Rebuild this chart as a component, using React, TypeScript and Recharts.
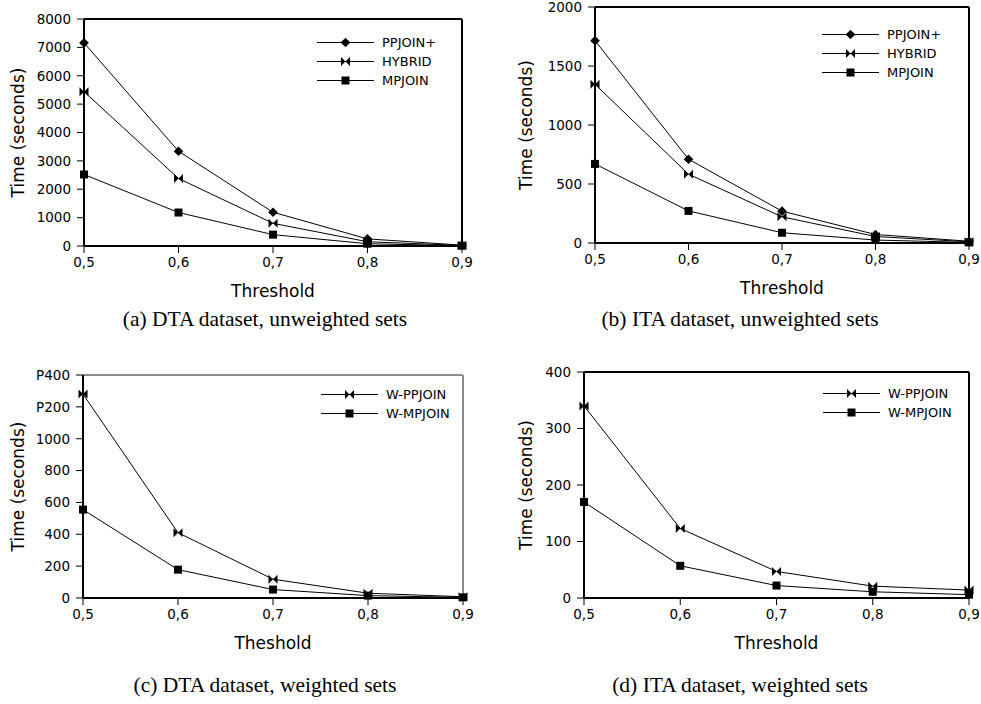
import React from 'react';
import { LineChart, Line, XAxis, YAxis, Legend, Label, ReferenceLine } from 'recharts';

// thresholds on the x axis
const thresholds = [0.5, 0.6, 0.7, 0.8, 0.9];
const xTickLabels = ['0,5', '0,6', '0,7', '0,8', '0,9'];

// (a) DTA dataset, unweighted sets
const dtaPpjoinPlus = [7160, 3340, 1190, 250, 30];
const dtaHybrid = [5440, 2380, 800, 150, 20];
const dtaMpjoin = [2520, 1180, 400, 80, 10];

// (b) ITA dataset, unweighted sets
const itaPpjoinPlus = [1715, 710, 270, 72, 15];
const itaHybrid = [1345, 583, 222, 55, 10];
const itaMpjoin = [670, 272, 87, 25, 5];

// (c) DTA dataset, weighted sets
const dtaWPpjoin = [1280, 410, 118, 30, 8];
const dtaWMpjoin = [555, 178, 53, 15, 4];

// (d) ITA dataset, weighted sets
const itaWPpjoin = [340, 123, 47, 21, 14];
const itaWMpjoin = [170, 57, 22, 11, 6];

const yTicksA = [0, 1000, 2000, 3000, 4000, 5000, 6000, 7000, 8000];
const yTicksB = [0, 500, 1000, 1500, 2000];
const yTicksC = [0, 200, 400, 600, 800, 1000, 1200, 1400];
const yTickLabelsC = ['0', '200', '400', '600', '800', '1000', 'P200', 'P400'];
const yTicksD = [0, 100, 200, 300, 400];

const SANS = 'DejaVu Sans';

type Shape = 'diamond' | 'bowtie' | 'square';

interface Series {
  name: string;
  values: number[];
  shape: Shape;
}

const Marker = ({ cx, cy, shape }: { cx: number; cy: number; shape: Shape }) => {
  if (cx == null || cy == null) return null;
  if (shape === 'diamond') {
    const r = 4.8;
    return <polygon points={`${cx},${cy - r} ${cx + r},${cy} ${cx},${cy + r} ${cx - r},${cy}`} fill="#000" />;
  }
  if (shape === 'bowtie') {
    const r = 4.5;
    return (
      <g fill="#000">
        <polygon points={`${cx - r},${cy - r} ${cx - r},${cy + r} ${cx},${cy}`} />
        <polygon points={`${cx + r},${cy - r} ${cx + r},${cy + r} ${cx},${cy}`} />
      </g>
    );
  }
  return <rect x={cx - 4} y={cy - 4} width={8} height={8} fill="#000" />;
};

const LegendBox = ({ series }: { series: Series[] }) => (
  <div style={{ fontFamily: SANS, fontSize: 13, color: '#000' }}>
    {series.map(s => (
      <div key={s.name} style={{ display: 'flex', alignItems: 'center', height: 19 }}>
        <svg width={57} height={19}>
          <line x1={0} x2={57} y1={9.5} y2={9.5} stroke="#000" strokeWidth={1} />
          <Marker cx={28.5} cy={9.5} shape={s.shape} />
        </svg>
        <span style={{ marginLeft: 8, whiteSpace: 'nowrap' }}>{s.name}</span>
      </div>
    ))}
  </div>
);

interface PanelProps {
  left: number;
  top: number;
  width: number;
  height: number;
  marginTop: number;
  marginRight: number;
  yWidth: number;
  xHeight: number;
  yMax: number;
  yTicks: number[];
  yLabels?: string[];
  series: Series[];
  xTitle: string;
  yTitleX: number;
  legendLeft: number;
  legendTop: number;
  frame: string;
}

function Panel(p: PanelProps) {
  const data = thresholds.map((t, i) => {
    const row: any = { t };
    p.series.forEach((s, k) => {
      row['s' + k] = s.values[i];
    });
    return row;
  });

  const tickStyle = { fill: '#000', fontSize: 13.5, fontFamily: SANS };

  return (
    <div style={{ position: 'absolute', left: p.left, top: p.top }}>
      <LineChart
        width={p.width}
        height={p.height}
        data={data}
        margin={{ top: p.marginTop, right: p.marginRight, left: 0, bottom: 0 }}
      >
        <XAxis
          dataKey="t"
          type="number"
          domain={[0.5, 0.9]}
          ticks={thresholds}
          tickFormatter={(v: number) => xTickLabels[thresholds.indexOf(v)]}
          height={p.xHeight}
          axisLine={{ stroke: '#000', strokeWidth: 2 }}
          tickLine={{ stroke: '#000' }}
          tickSize={7}
          tickMargin={4}
          tick={tickStyle}
          interval={0}
        >
          <Label
            content={(lp: any) => {
              const vb = lp.viewBox;
              return (
                <text x={vb.x + vb.width / 2} y={vb.y + 51} textAnchor="middle" fontSize={17} fontFamily={SANS} fill="#000">
                  {p.xTitle}
                </text>
              );
            }}
          />
        </XAxis>
        <YAxis
          type="number"
          domain={[0, p.yMax]}
          ticks={p.yTicks}
          tickFormatter={(v: number) => (p.yLabels ? p.yLabels[p.yTicks.indexOf(v)] : String(v))}
          width={p.yWidth}
          axisLine={{ stroke: '#000', strokeWidth: 2 }}
          tickLine={{ stroke: '#000' }}
          tickSize={7}
          tickMargin={6}
          tick={tickStyle}
          interval={0}
        >
          <Label
            content={(lp: any) => {
              const vb = lp.viewBox;
              const cx = vb.x + p.yTitleX;
              const cy = vb.y + vb.height / 2;
              return (
                <text
                  x={cx}
                  y={cy}
                  transform={`rotate(-90 ${cx} ${cy})`}
                  textAnchor="middle"
                  dominantBaseline="central"
                  fontSize={17}
                  fontFamily={SANS}
                  fill="#000"
                >
                  Time (seconds)
                </text>
              );
            }}
          />
        </YAxis>
        {/* top and right edges of the plot frame */}
        <ReferenceLine y={p.yMax} stroke={p.frame} strokeWidth={2} />
        <ReferenceLine x={0.9} stroke={p.frame} strokeWidth={2} />
        <Legend
          layout="vertical"
          align="center"
          verticalAlign="middle"
          wrapperStyle={{ left: p.legendLeft, top: p.legendTop, width: 170 }}
          content={() => <LegendBox series={p.series} />}
        />
        {p.series.map((s, k) => (
          <Line
            key={s.name}
            name={s.name}
            dataKey={'s' + k}
            stroke="#000"
            strokeWidth={1}
            isAnimationActive={false}
            activeDot={false}
            dot={(dp: any) => <Marker key={`${s.name}-${dp.index}`} cx={dp.cx} cy={dp.cy} shape={s.shape} />}
          />
        ))}
      </LineChart>
    </div>
  );
}

const captionStyle: React.CSSProperties = {
  position: 'absolute',
  width: 400,
  textAlign: 'center',
  fontFamily: 'Liberation Serif',
  fontSize: 21.5,
  color: '#000',
  whiteSpace: 'nowrap',
};

export default function App() {
  return (
    <div style={{ position: 'absolute', left: 0, top: 0, width: 981, height: 704, background: '#fff' }}>
      <Panel
        left={0}
        top={0}
        width={490}
        height={300}
        marginTop={19}
        marginRight={28}
        yWidth={84}
        xHeight={54}
        yMax={8000}
        yTicks={yTicksA}
        series={[
          { name: 'PPJOIN+', values: dtaPpjoinPlus, shape: 'diamond' },
          { name: 'HYBRID', values: dtaHybrid, shape: 'bowtie' },
          { name: 'MPJOIN', values: dtaMpjoin, shape: 'square' },
        ]}
        xTitle="Threshold"
        yTitleX={18}
        legendLeft={317}
        legendTop={33}
        frame="#000"
      />
      <Panel
        left={490}
        top={0}
        width={491}
        height={300}
        marginTop={7}
        marginRight={12}
        yWidth={105}
        xHeight={57}
        yMax={2000}
        yTicks={yTicksB}
        series={[
          { name: 'PPJOIN+', values: itaPpjoinPlus, shape: 'diamond' },
          { name: 'HYBRID', values: itaHybrid, shape: 'bowtie' },
          { name: 'MPJOIN', values: itaMpjoin, shape: 'square' },
        ]}
        xTitle="Threshold"
        yTitleX={36}
        legendLeft={332}
        legendTop={25}
        frame="#000"
      />
      <Panel
        left={0}
        top={350}
        width={490}
        height={310}
        marginTop={25}
        marginRight={27}
        yWidth={83}
        xHeight={62}
        yMax={1400}
        yTicks={yTicksC}
        yLabels={yTickLabelsC}
        series={[
          { name: 'W-PPJOIN', values: dtaWPpjoin, shape: 'bowtie' },
          { name: 'W-MPJOIN', values: dtaWMpjoin, shape: 'square' },
        ]}
        xTitle="Theshold"
        yTitleX={18}
        legendLeft={321}
        legendTop={35}
        frame="#8c8c8c"
      />
      <Panel
        left={490}
        top={350}
        width={491}
        height={310}
        marginTop={22}
        marginRight={12}
        yWidth={94}
        xHeight={62}
        yMax={400}
        yTicks={yTicksD}
        series={[
          { name: 'W-PPJOIN', values: itaWPpjoin, shape: 'bowtie' },
          { name: 'W-MPJOIN', values: itaWMpjoin, shape: 'square' },
        ]}
        xTitle="Threshold"
        yTitleX={36}
        legendLeft={333}
        legendTop={34}
        frame="#000"
      />
      <div style={{ ...captionStyle, left: 65, top: 307 }}>(a) DTA dataset, unweighted sets</div>
      <div style={{ ...captionStyle, left: 540, top: 307 }}>(b) ITA dataset, unweighted sets</div>
      <div style={{ ...captionStyle, left: 65, top: 673 }}>(c) DTA dataset, weighted sets</div>
      <div style={{ ...captionStyle, left: 540, top: 673 }}>(d) ITA dataset, weighted sets</div>
    </div>
  );
}
